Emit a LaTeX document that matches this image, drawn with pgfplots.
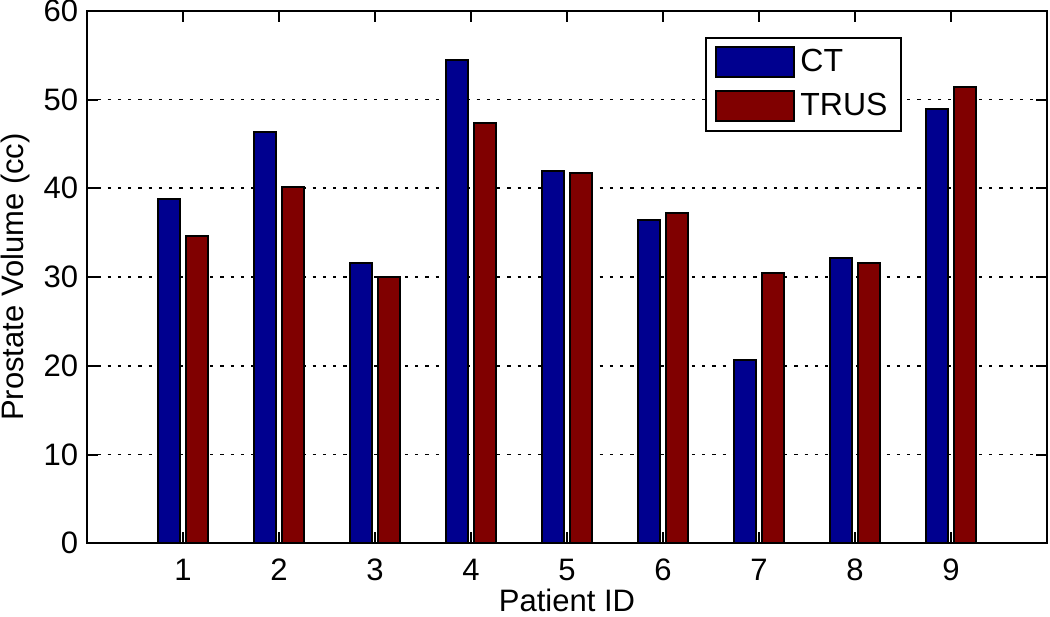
\documentclass[border=0pt]{standalone}
\usepackage{pgfplots}
\pgfplotsset{compat=1.18}
\usepackage{fontspec}
\setmainfont{Liberation Sans}
\definecolor{ctblue}{RGB}{0,0,143}
\definecolor{trusred}{RGB}{128,0,0}

\begin{document}
\begin{tikzpicture}
\begin{axis}[
  name=ax,
  scale only axis,
  width=384pt, height=213pt,
  xmin=0, xmax=10, ymin=0, ymax=60,
  xtick={1,...,9}, ytick={0,10,...,60},
  tick align=inside,
  xtick pos=both, ytick pos=both,
  xticklabel pos=left, yticklabel pos=left,
  major tick length=4.4pt,
  axis line style={line width=0.8pt},
  every tick/.style={black, line width=0.8pt},
  font=\fontsize{12.4}{14}\selectfont,
  /pgf/number format/assume math mode=true,
  xticklabel style={yshift=-2.7pt},
  xlabel={Patient ID},
  ylabel={Prostate Volume (cc)},
  xlabel style={at={(axis description cs:0.5,0)}, anchor=north, yshift=-18.2pt, inner sep=0pt},
  ylabel style={at={(axis description cs:-0.075,0.5)}, anchor=center, inner sep=0pt},
  ymajorgrids,
  grid style={black, line width=0.7pt, dash pattern=on 1.3pt off 2.8pt},
  legend cell align=left,
  legend style={at={(0.849,0.951)}, anchor=north east, draw=black, line width=0.8pt,
    inner xsep=3.4pt, inner ysep=2.6pt, row sep=3pt,
    font=\fontsize{12.8}{14}\selectfont,
    nodes={inner sep=2pt}},
  legend image code/.code={\draw[#1] (0pt,-6pt) rectangle (31.4pt,6pt);},
]
\addplot[ybar, bar width=0.234, bar shift=-0.147, fill=ctblue, draw=black, line width=0.8pt]
  coordinates {(1,38.8) (2,46.3) (3,31.6) (4,54.5) (5,42.0) (6,36.45) (7,20.7) (8,32.1) (9,48.9)};
\addplot[ybar, bar width=0.234, bar shift=0.147, fill=trusred, draw=black, line width=0.8pt]
  coordinates {(1,34.6) (2,40.1) (3,30.0) (4,47.3) (5,41.75) (6,37.2) (7,30.4) (8,31.6) (9,51.4)};
\legend{CT, TRUS}
\end{axis}
\pgfresetboundingbox
\path[use as bounding box] ([xshift=-34.8pt,yshift=-29.2pt]ax.south west) rectangle ([xshift=1.2pt,yshift=4.3pt]ax.north east);
\end{tikzpicture}
\end{document}
